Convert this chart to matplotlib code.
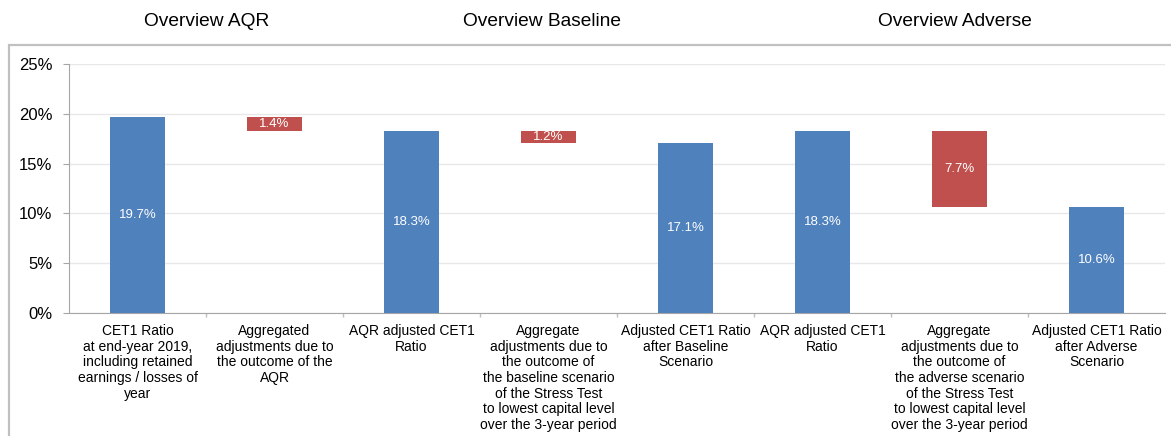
import matplotlib
matplotlib.use("Agg")
import matplotlib.pyplot as plt
from matplotlib.patches import Rectangle
import numpy as np

plt.rcParams['font.family'] = ['Liberation Sans', 'DejaVu Sans']

categories = [
    "CET1 Ratio\nat end-year 2019,\nincluding retained\nearnings / losses of\nyear",
    "Aggregated\nadjustments due to\nthe outcome of the\nAQR",
    "AQR adjusted CET1\nRatio",
    "Aggregate\nadjustments due to\nthe outcome of\nthe baseline scenario\nof the Stress Test\nto lowest capital level\nover the 3-year period",
    "Adjusted CET1 Ratio\nafter Baseline\nScenario",
    "AQR adjusted CET1\nRatio",
    "Aggregate\nadjustments due to\nthe outcome of\nthe adverse scenario\nof the Stress Test\nto lowest capital level\nover the 3-year period",
    "Adjusted CET1 Ratio\nafter Adverse\nScenario",
]
# bar tops and bottoms (percent)
bar_top = [19.7, 19.7, 18.3, 18.3, 17.1, 18.3, 18.3, 10.6]
bar_bottom = [0.0, 18.3, 0.0, 17.1, 0.0, 0.0, 10.6, 0.0]
bar_kind = ["total", "adj", "total", "adj", "total", "total", "adj", "total"]
bar_labels = ["19.7%", "1.4%", "18.3%", "1.2%", "17.1%", "18.3%", "7.7%", "10.6%"]
section_titles = ["Overview AQR", "Overview Baseline", "Overview Adverse"]

BLUE = "#4F81BD"
RED = "#C0504D"

fig = plt.figure(figsize=(11.71, 4.36), dpi=100)
W, H = 1171, 436
ax = fig.add_axes([69 / W, 1 - 313 / H, (1165 - 69) / W, (313 - 64) / H])

x = np.arange(len(categories))
heights = [t - b for t, b in zip(bar_top, bar_bottom)]
colors = [BLUE if k == "total" else RED for k in bar_kind]
bars = ax.bar(x, heights, bottom=bar_bottom, width=0.4, color=colors, zorder=3)
for b, lab in zip(bars, bar_labels):
    cx = b.get_x() + b.get_width() / 2
    cy = b.get_y() + b.get_height() / 2
    ax.text(cx, cy, lab, ha="center", va="center", color="white", fontsize=9.5, zorder=4)

ax.set_xlim(-0.5, len(categories) - 0.5)
ax.set_ylim(0, 25)
ax.set_yticks(np.arange(0, 26, 5))
ax.set_yticklabels([f"{v}%" for v in range(0, 26, 5)], fontsize=12)
ax.yaxis.grid(True, color="#e8e8e8", linewidth=1, zorder=0)
ax.set_axisbelow(True)

ax.set_xticks(x)
ax.set_xticklabels(categories, fontsize=10, linespacing=1.15, va="top")
ax.tick_params(axis="x", which="major", length=0, pad=8)
ax.set_xticks(np.arange(0.5, len(categories) - 0.5, 1), minor=True)
ax.tick_params(axis="x", which="minor", length=3, color="#bfbfbf", width=1, direction="out")
ax.tick_params(axis="y", length=4, color="#a6a6a6", pad=8, labelsize=12)

for s in ["top", "right"]:
    ax.spines[s].set_visible(False)
ax.spines["left"].set_color("#a6a6a6")
ax.spines["bottom"].set_color("#a6a6a6")

# section titles (positioned in figure pixels)
title_px = [207, 542, 955]
for t, px in zip(section_titles, title_px):
    fig.text(px / W, 1 - 22 / H, t, ha="center", va="center", fontsize=13.8)

# frame
fig.patches.append(Rectangle((9 / W, -0.1), 1.2, (1 - 45 / H) + 0.1, transform=fig.transFigure,
                             fill=False, edgecolor="#c0c0c0", linewidth=1.6, zorder=0))

fig.savefig("out.png", dpi=100)
